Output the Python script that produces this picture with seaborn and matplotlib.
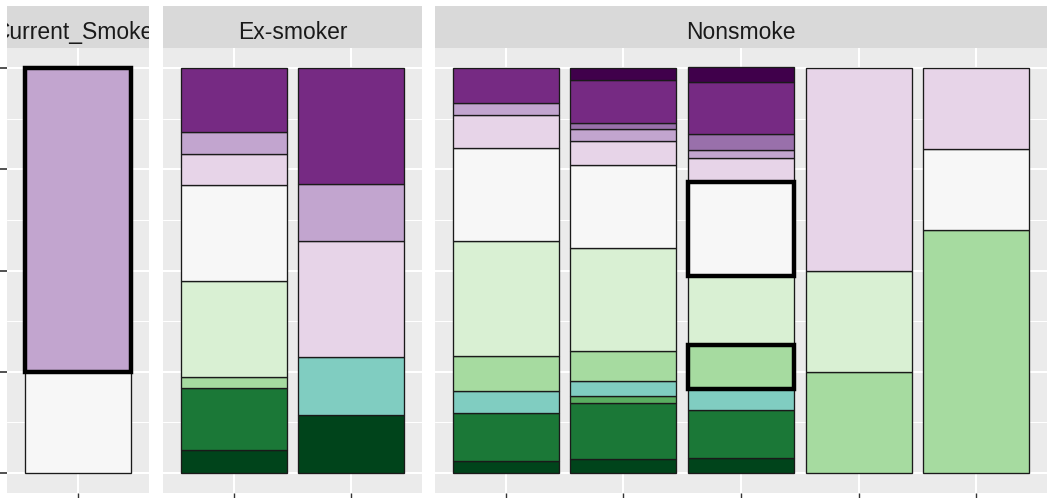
import numpy as np
import pandas as pd
import matplotlib
matplotlib.use("Agg")
import matplotlib.pyplot as plt
from matplotlib.patches import Rectangle
from matplotlib.transforms import Bbox, TransformedBbox
import seaborn as sns

# ggplot-like grey theme
sns.set_theme(style="darkgrid", rc={
    "axes.facecolor": "#EBEBEB",
    "grid.color": "white",
    "axes.edgecolor": "none",
})
plt.rcParams["font.family"] = ["Liberation Sans", "DejaVu Sans"]

# fill levels, bottom of stack -> top
levels = ["L01", "L02", "L03", "L04", "L05", "L06",
          "L07", "L08", "L09", "L10", "L11", "L12"]
level_colors = ["#00441b", "#1b7837", "#5aae61", "#80cdc1", "#a6dba0", "#d9f0d3",
                "#f7f7f7", "#e7d4e8", "#c2a5cf", "#9970ab", "#762a83", "#40004b"]

facets = ["Current_Smoker", "Ex-smoker", "Nonsmoke"]
facet_bars = {
    "Current_Smoker": ["C1"],
    "Ex-smoker": ["E1", "E2"],
    "Nonsmoke": ["N1", "N2", "N3", "N4", "N5"],
}

# proportions per bar, one value per level (bottom -> top)
c1 = [0, 0, 0, 0, 0, 0, 0.25, 0, 0.75, 0, 0, 0]
e1 = [0.056, 0.154, 0, 0, 0.026, 0.238, 0.237, 0.077, 0.055, 0, 0.158, 0]
e2 = [0.143, 0, 0, 0.143, 0, 0, 0, 0.286, 0.143, 0, 0.286, 0]
n1 = [0.029, 0.119, 0, 0.054, 0.087, 0.285, 0.228, 0.082, 0.031, 0, 0.086, 0]
n2 = [0.033, 0.140, 0.018, 0.037, 0.073, 0.255, 0.204, 0.059, 0.031, 0.014, 0.108, 0.028]
n3 = [0.037, 0.119, 0, 0.051, 0.108, 0.171, 0.232, 0.061, 0.019, 0.040, 0.127, 0.037]
n4 = [0, 0, 0, 0, 0.25, 0.25, 0, 0.5, 0, 0, 0, 0]
n5 = [0, 0, 0, 0, 0.6, 0, 0.2, 0.2, 0, 0, 0, 0]
bar_values = {"C1": c1, "E1": e1, "E2": e2, "N1": n1, "N2": n2,
              "N3": n3, "N4": n4, "N5": n5}

# segments drawn with a heavy outline
highlight = [("C1", "L09"), ("N3", "L07"), ("N3", "L05")]

rows = []
for f in facets:
    for b in facet_bars[f]:
        for lv, v in zip(levels, bar_values[b]):
            rows.append({"facet": f, "bar": b, "level": lv, "prop": v})
df = pd.DataFrame(rows)
df["bottom"] = df.groupby("bar")["prop"].cumsum() - df["prop"]
pal = dict(zip(levels, level_colors))

W, H = 1054, 498
fig = plt.figure(figsize=(W / 100, H / 100), dpi=100)
panel_px = {"Current_Smoker": (7, 149), "Ex-smoker": (163, 422), "Nonsmoke": (435, 1047)}
top_px, bot_px, strip_px = 48, 493, 42
panel_h = bot_px - top_px

for i, f in enumerate(facets):
    x0, x1 = panel_px[f]
    ax = fig.add_axes([x0 / W, (H - bot_px) / H, (x1 - x0) / W, panel_h / H])
    sub = df[df["facet"] == f]
    bars = facet_bars[f]
    pos = {b: k for k, b in enumerate(bars)}
    for _, r in sub[sub["prop"] > 0].iterrows():
        ax.bar(pos[r["bar"]], r["prop"], bottom=r["bottom"], width=0.9,
               color=pal[r["level"]], edgecolor="#1a1a1a", linewidth=0.95, zorder=3)
    for b, lv in highlight:
        if b in pos:
            r = sub[(sub["bar"] == b) & (sub["level"] == lv)].iloc[0]
            ax.bar(pos[b], r["prop"], bottom=r["bottom"], width=0.9,
                   facecolor="none", edgecolor="black", linewidth=3.2, zorder=4)
    ax.set_xlim(-0.6, len(bars) - 0.4)
    ax.set_ylim(-0.05, 1.05)
    ax.set_xticks(range(len(bars)))
    ax.set_xticklabels([])
    ax.set_yticks([0, 0.25, 0.5, 0.75, 1])
    ax.set_yticks([0.125, 0.375, 0.625, 0.875], minor=True)
    ax.set_yticklabels([])
    ax.grid(which="major", color="white", linewidth=1.5)
    ax.grid(which="minor", axis="y", color="white", linewidth=0.75)
    ax.tick_params(axis="x", which="major", bottom=True, length=4, width=1, color="#333333")
    ax.tick_params(axis="y", which="major", left=(i == 0), length=5, width=1.2, color="#333333")
    ax.tick_params(which="minor", left=False, bottom=False)
    ax.set_xlabel("")
    ax.set_ylabel("")
    for s in ax.spines.values():
        s.set_visible(False)

    # facet strip (label clipped to the strip like ggplot)
    h = strip_px / panel_h
    ax.add_patch(Rectangle((0, 1), 1, h, transform=ax.transAxes, clip_on=False,
                           facecolor="#D9D9D9", edgecolor="none", zorder=1))
    t = ax.text(0.5, 1 + (top_px - 39) / panel_h, f, transform=ax.transAxes,
                ha="center", va="baseline", fontsize=16.5, color="#1a1a1a")
    t.set_clip_box(TransformedBbox(Bbox([[0, 1], [1, 1 + h]]), ax.transAxes))
    t.set_clip_on(True)

fig.savefig("out.png", dpi=100)
